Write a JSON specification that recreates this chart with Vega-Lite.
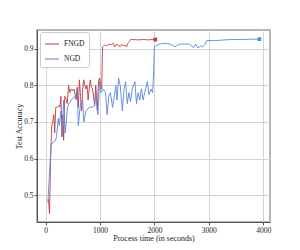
{
  "$schema": "https://vega.github.io/schema/vega-lite/v6.json",
  "autosize": "none",
  "width": 233,
  "height": 192,
  "padding": {"left": 37, "top": 30, "right": 30, "bottom": 28},
  "background": "white",
  "config": {
    "font": "Liberation Serif",
    "view": {"stroke": "#b5b5b5", "strokeWidth": 2},
    "axis": {
      "gridColor": "#d4d4d4",
      "gridWidth": 1,
      "domainColor": "#555555",
      "domainWidth": 1,
      "tickColor": "#555555",
      "tickSize": 3,
      "labelFont": "Liberation Serif",
      "labelFontSize": 7.5,
      "labelColor": "#222222",
      "labelPadding": 1,
      "titleFont": "Liberation Serif",
      "titleFontSize": 8,
      "titleFontWeight": "normal",
      "titleColor": "#222222"
    }
  },
  "datasets": {
    "runs": [
      {"Method": "FNGD", "t": 50, "acc": 0.49},
      {"Method": "FNGD", "t": 70, "acc": 0.45},
      {"Method": "FNGD", "t": 90, "acc": 0.6},
      {"Method": "FNGD", "t": 110, "acc": 0.69},
      {"Method": "FNGD", "t": 130, "acc": 0.7},
      {"Method": "FNGD", "t": 150, "acc": 0.72},
      {"Method": "FNGD", "t": 165, "acc": 0.67},
      {"Method": "FNGD", "t": 185, "acc": 0.74},
      {"Method": "FNGD", "t": 210, "acc": 0.74},
      {"Method": "FNGD", "t": 240, "acc": 0.745},
      {"Method": "FNGD", "t": 260, "acc": 0.74},
      {"Method": "FNGD", "t": 280, "acc": 0.77},
      {"Method": "FNGD", "t": 300, "acc": 0.66},
      {"Method": "FNGD", "t": 315, "acc": 0.72},
      {"Method": "FNGD", "t": 330, "acc": 0.65},
      {"Method": "FNGD", "t": 350, "acc": 0.77},
      {"Method": "FNGD", "t": 370, "acc": 0.765},
      {"Method": "FNGD", "t": 395, "acc": 0.75},
      {"Method": "FNGD", "t": 420, "acc": 0.8},
      {"Method": "FNGD", "t": 445, "acc": 0.78},
      {"Method": "FNGD", "t": 470, "acc": 0.79},
      {"Method": "FNGD", "t": 500, "acc": 0.785},
      {"Method": "FNGD", "t": 520, "acc": 0.79},
      {"Method": "FNGD", "t": 540, "acc": 0.775},
      {"Method": "FNGD", "t": 560, "acc": 0.76},
      {"Method": "FNGD", "t": 580, "acc": 0.795},
      {"Method": "FNGD", "t": 600, "acc": 0.74},
      {"Method": "FNGD", "t": 620, "acc": 0.815},
      {"Method": "FNGD", "t": 640, "acc": 0.77},
      {"Method": "FNGD", "t": 660, "acc": 0.73},
      {"Method": "FNGD", "t": 680, "acc": 0.79},
      {"Method": "FNGD", "t": 700, "acc": 0.815},
      {"Method": "FNGD", "t": 720, "acc": 0.8},
      {"Method": "FNGD", "t": 740, "acc": 0.79},
      {"Method": "FNGD", "t": 760, "acc": 0.8},
      {"Method": "FNGD", "t": 780, "acc": 0.76},
      {"Method": "FNGD", "t": 800, "acc": 0.79},
      {"Method": "FNGD", "t": 820, "acc": 0.815},
      {"Method": "FNGD", "t": 840, "acc": 0.795},
      {"Method": "FNGD", "t": 860, "acc": 0.79},
      {"Method": "FNGD", "t": 880, "acc": 0.77},
      {"Method": "FNGD", "t": 900, "acc": 0.745},
      {"Method": "FNGD", "t": 920, "acc": 0.8},
      {"Method": "FNGD", "t": 950, "acc": 0.73},
      {"Method": "FNGD", "t": 970, "acc": 0.81},
      {"Method": "FNGD", "t": 990, "acc": 0.82},
      {"Method": "FNGD", "t": 1010, "acc": 0.8},
      {"Method": "FNGD", "t": 1030, "acc": 0.79},
      {"Method": "FNGD", "t": 1045, "acc": 0.905},
      {"Method": "FNGD", "t": 1080, "acc": 0.91},
      {"Method": "FNGD", "t": 1120, "acc": 0.908},
      {"Method": "FNGD", "t": 1160, "acc": 0.912},
      {"Method": "FNGD", "t": 1200, "acc": 0.91},
      {"Method": "FNGD", "t": 1240, "acc": 0.915},
      {"Method": "FNGD", "t": 1270, "acc": 0.905},
      {"Method": "FNGD", "t": 1300, "acc": 0.912},
      {"Method": "FNGD", "t": 1330, "acc": 0.91},
      {"Method": "FNGD", "t": 1370, "acc": 0.906},
      {"Method": "FNGD", "t": 1400, "acc": 0.912},
      {"Method": "FNGD", "t": 1430, "acc": 0.908},
      {"Method": "FNGD", "t": 1460, "acc": 0.91},
      {"Method": "FNGD", "t": 1490, "acc": 0.905},
      {"Method": "FNGD", "t": 1510, "acc": 0.915},
      {"Method": "FNGD", "t": 1540, "acc": 0.92},
      {"Method": "FNGD", "t": 1560, "acc": 0.925},
      {"Method": "FNGD", "t": 1600, "acc": 0.925},
      {"Method": "FNGD", "t": 1700, "acc": 0.924},
      {"Method": "FNGD", "t": 1800, "acc": 0.925},
      {"Method": "FNGD", "t": 1900, "acc": 0.924},
      {"Method": "FNGD", "t": 1960, "acc": 0.925},
      {"Method": "FNGD", "t": 2015, "acc": 0.925},
      {"Method": "NGD", "t": 40, "acc": 0.48},
      {"Method": "NGD", "t": 100, "acc": 0.64},
      {"Method": "NGD", "t": 150, "acc": 0.645},
      {"Method": "NGD", "t": 180, "acc": 0.65},
      {"Method": "NGD", "t": 200, "acc": 0.66},
      {"Method": "NGD", "t": 230, "acc": 0.71},
      {"Method": "NGD", "t": 250, "acc": 0.69},
      {"Method": "NGD", "t": 280, "acc": 0.73},
      {"Method": "NGD", "t": 300, "acc": 0.66},
      {"Method": "NGD", "t": 330, "acc": 0.76},
      {"Method": "NGD", "t": 360, "acc": 0.67},
      {"Method": "NGD", "t": 400, "acc": 0.74},
      {"Method": "NGD", "t": 430, "acc": 0.75},
      {"Method": "NGD", "t": 470, "acc": 0.76},
      {"Method": "NGD", "t": 500, "acc": 0.765},
      {"Method": "NGD", "t": 550, "acc": 0.77},
      {"Method": "NGD", "t": 580, "acc": 0.79},
      {"Method": "NGD", "t": 600, "acc": 0.69},
      {"Method": "NGD", "t": 640, "acc": 0.75},
      {"Method": "NGD", "t": 680, "acc": 0.76},
      {"Method": "NGD", "t": 700, "acc": 0.7},
      {"Method": "NGD", "t": 740, "acc": 0.73},
      {"Method": "NGD", "t": 800, "acc": 0.74},
      {"Method": "NGD", "t": 850, "acc": 0.74},
      {"Method": "NGD", "t": 900, "acc": 0.745},
      {"Method": "NGD", "t": 920, "acc": 0.78},
      {"Method": "NGD", "t": 960, "acc": 0.72},
      {"Method": "NGD", "t": 990, "acc": 0.81},
      {"Method": "NGD", "t": 1020, "acc": 0.78},
      {"Method": "NGD", "t": 1060, "acc": 0.79},
      {"Method": "NGD", "t": 1100, "acc": 0.78},
      {"Method": "NGD", "t": 1130, "acc": 0.72},
      {"Method": "NGD", "t": 1160, "acc": 0.77},
      {"Method": "NGD", "t": 1190, "acc": 0.78},
      {"Method": "NGD", "t": 1230, "acc": 0.74},
      {"Method": "NGD", "t": 1260, "acc": 0.77},
      {"Method": "NGD", "t": 1290, "acc": 0.8},
      {"Method": "NGD", "t": 1310, "acc": 0.76},
      {"Method": "NGD", "t": 1340, "acc": 0.82},
      {"Method": "NGD", "t": 1370, "acc": 0.8},
      {"Method": "NGD", "t": 1410, "acc": 0.73},
      {"Method": "NGD", "t": 1440, "acc": 0.79},
      {"Method": "NGD", "t": 1470, "acc": 0.81},
      {"Method": "NGD", "t": 1500, "acc": 0.75},
      {"Method": "NGD", "t": 1530, "acc": 0.78},
      {"Method": "NGD", "t": 1560, "acc": 0.755},
      {"Method": "NGD", "t": 1590, "acc": 0.79},
      {"Method": "NGD", "t": 1640, "acc": 0.81},
      {"Method": "NGD", "t": 1670, "acc": 0.75},
      {"Method": "NGD", "t": 1700, "acc": 0.78},
      {"Method": "NGD", "t": 1730, "acc": 0.76},
      {"Method": "NGD", "t": 1760, "acc": 0.79},
      {"Method": "NGD", "t": 1790, "acc": 0.76},
      {"Method": "NGD", "t": 1820, "acc": 0.78},
      {"Method": "NGD", "t": 1870, "acc": 0.81},
      {"Method": "NGD", "t": 1900, "acc": 0.775},
      {"Method": "NGD", "t": 1940, "acc": 0.79},
      {"Method": "NGD", "t": 1965, "acc": 0.78},
      {"Method": "NGD", "t": 1980, "acc": 0.82},
      {"Method": "NGD", "t": 2000, "acc": 0.905},
      {"Method": "NGD", "t": 2050, "acc": 0.91},
      {"Method": "NGD", "t": 2100, "acc": 0.913},
      {"Method": "NGD", "t": 2200, "acc": 0.915},
      {"Method": "NGD", "t": 2300, "acc": 0.912},
      {"Method": "NGD", "t": 2380, "acc": 0.905},
      {"Method": "NGD", "t": 2450, "acc": 0.912},
      {"Method": "NGD", "t": 2550, "acc": 0.913},
      {"Method": "NGD", "t": 2650, "acc": 0.912},
      {"Method": "NGD", "t": 2720, "acc": 0.903},
      {"Method": "NGD", "t": 2760, "acc": 0.912},
      {"Method": "NGD", "t": 2800, "acc": 0.902},
      {"Method": "NGD", "t": 2850, "acc": 0.908},
      {"Method": "NGD", "t": 2880, "acc": 0.904},
      {"Method": "NGD", "t": 2930, "acc": 0.912},
      {"Method": "NGD", "t": 2960, "acc": 0.922},
      {"Method": "NGD", "t": 3100, "acc": 0.922},
      {"Method": "NGD", "t": 3200, "acc": 0.923},
      {"Method": "NGD", "t": 3400, "acc": 0.925},
      {"Method": "NGD", "t": 3600, "acc": 0.925},
      {"Method": "NGD", "t": 3800, "acc": 0.926},
      {"Method": "NGD", "t": 3930, "acc": 0.926}
    ],
    "ends": [
      {"Method": "FNGD", "t": 2015, "acc": 0.925},
      {"Method": "NGD", "t": 3930, "acc": 0.926}
    ]
  },
  "layer": [
    {
      "data": {"name": "runs"},
      "mark": {"type": "line", "strokeWidth": 0.9, "clip": true},
      "encoding": {
        "x": {
          "field": "t", "type": "quantitative",
          "scale": {"domain": [-160, 4125], "nice": false, "zero": false},
          "axis": {"values": [0, 500, 1000, 1500, 2000, 2500, 3000, 3500, 4000], "format": "d", "title": "Process time (in seconds)", "titlePadding": 1}
        },
        "y": {
          "field": "acc", "type": "quantitative",
          "scale": {"domain": [0.427, 0.951], "nice": false, "zero": false},
          "axis": {"values": [0.5, 0.6, 0.7, 0.8, 0.9], "format": ".1f", "title": "Test Accuracy", "titlePadding": 0}
        },
        "color": {
          "field": "Method", "type": "nominal",
          "scale": {"domain": ["FNGD", "NGD"], "range": ["#c23b3b", "#5a86dc"]},
          "legend": {
            "title": null,
            "orient": "none",
            "legendX": 3,
            "legendY": 2,
            "symbolType": "stroke",
            "symbolSize": 200,
            "symbolStrokeWidth": 1,
            "labelFont": "Liberation Serif",
            "labelFontSize": 7.5,
            "labelColor": "#222222",
            "rowPadding": 3,
            "padding": 4,
            "fillColor": "white",
            "strokeColor": "#cccccc",
            "cornerRadius": 2
          }
        },
        "order": {"field": "t", "type": "quantitative"}
      }
    },
    {
      "data": {"name": "ends"},
      "mark": {"type": "square", "filled": true, "size": 14, "opacity": 1},
      "encoding": {
        "x": {"field": "t", "type": "quantitative"},
        "y": {"field": "acc", "type": "quantitative"},
        "color": {"field": "Method", "type": "nominal", "legend": null}
      }
    }
  ]
}
